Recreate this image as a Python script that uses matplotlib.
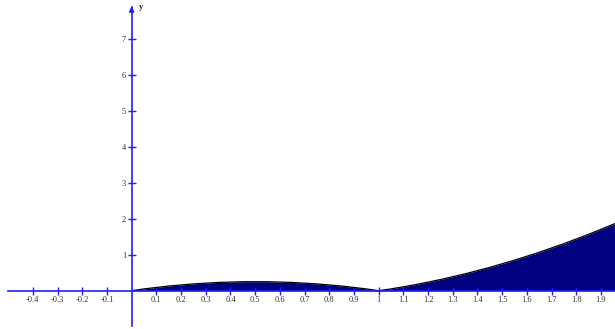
import matplotlib.pyplot as plt
import numpy as np

# values (y = height of filled region)
xs = [0.0, 0.05, 0.1, 0.15, 0.2, 0.25, 0.3, 0.35, 0.4, 0.45, 0.5, 0.55, 0.6, 0.65,
      0.7, 0.75, 0.8, 0.85, 0.9, 0.95, 1.0, 1.05, 1.1, 1.15, 1.2, 1.25, 1.3, 1.35,
      1.4, 1.45, 1.5, 1.55, 1.6, 1.65, 1.7, 1.75, 1.8, 1.85, 1.9, 1.95, 2.0]
ys = [0.0, 0.05, 0.09, 0.13, 0.16, 0.19, 0.21, 0.23, 0.24, 0.25, 0.25, 0.25, 0.24, 0.23,
      0.21, 0.19, 0.16, 0.13, 0.09, 0.05, 0.0, 0.05, 0.11, 0.17, 0.24, 0.31, 0.39, 0.47,
      0.56, 0.65, 0.75, 0.85, 0.96, 1.07, 1.19, 1.31, 1.44, 1.57, 1.71, 1.85, 2.0]

xticks = [-0.4, -0.3, -0.2, -0.1, 0.1, 0.2, 0.3, 0.4, 0.5, 0.6, 0.7, 0.8, 0.9, 1.0,
          1.1, 1.2, 1.3, 1.4, 1.5, 1.6, 1.7, 1.8, 1.9]
xlabels = ['-0.4', '-0.3', '-0.2', '-0.1', '0.1', '0.2', '0.3', '0.4', '0.5', '0.6',
           '0.7', '0.8', '0.9', '1', '1.1', '1.2', '1.3', '1.4', '1.5', '1.6', '1.7',
           '1.8', '1.9']
yticks = [1, 2, 3, 4, 5, 6, 7]

f = plt.figure(figsize=[6.15, 3.29], dpi=100)
ax = f.add_axes([0, 0, 1, 1])
ax.set_xlim(-0.533, 1.957)
ax.set_ylim(-1.067, 8.097)

axcol = '#2020ff'
ax.fill_between(xs, ys, 0, color='#000080', lw=0)
ax.plot(xs, ys, color='black', lw=0.9)

for s in ['top', 'right']:
    ax.spines[s].set_visible(False)
ax.spines['left'].set_position(('data', 0))
ax.spines['bottom'].set_position(('data', 0))
ax.spines['left'].set_bounds(-0.97, 7.9)
ax.spines['bottom'].set_bounds(-0.50, 1.957)
ax.spines['left'].set_color(axcol)
ax.spines['bottom'].set_color(axcol)
ax.spines['left'].set_linewidth(1.2)
ax.spines['bottom'].set_linewidth(1.2)

ax.annotate('', xy=(0, 8.0), xytext=(0, 7.7),
            arrowprops=dict(arrowstyle='-|>', color=axcol, lw=1.2, mutation_scale=7))
ax.text(0.03, 7.9, 'y', fontsize=6, family='Liberation Serif', fontweight='bold',
        va='center', ha='left', color='#222222')

ax.set_xticks(xticks)
ax.set_xticklabels(xlabels)
ax.set_yticks(yticks)
ax.tick_params(axis='both', direction='inout', length=6, width=1, color=axcol,
               labelsize=6, labelcolor='#333333', pad=1)
for lab in ax.get_xticklabels() + ax.get_yticklabels():
    lab.set_family('Liberation Serif')

plt.savefig('out.png', dpi=100)
